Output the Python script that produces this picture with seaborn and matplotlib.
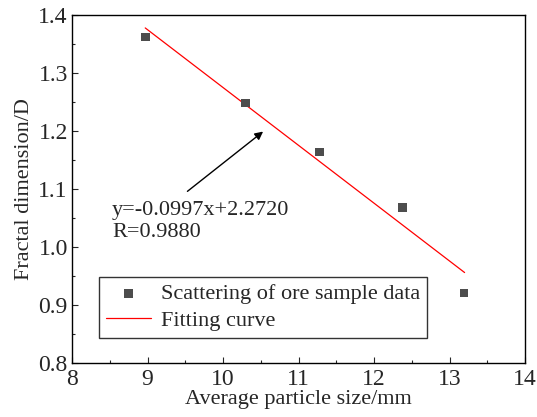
import numpy as np
import pandas as pd
import seaborn as sns
import matplotlib.pyplot as plt
from matplotlib.ticker import MultipleLocator

# du lieu doc tu hinh
particle_size = [8.97, 10.30, 11.28, 12.38, 13.19]
fractal_dim = [1.362, 1.248, 1.164, 1.068, 0.921]
fit_x = [8.97, 13.20]
slope, intercept = -0.0997, 2.2720

df = pd.DataFrame({'size': particle_size, 'D': fractal_dim})
fit_df = pd.DataFrame({'size': fit_x})
fit_df['D'] = slope * fit_df['size'] + intercept

sns.set_style('ticks')
plt.rcParams['font.family'] = ['Liberation Serif', 'DejaVu Serif']

fig = plt.figure(figsize=(5.37, 4.17), dpi=100)
ax = fig.add_axes([72/537, 54/417, 453/537, 348/417])

sns.scatterplot(data=df, x='size', y='D', marker='s', s=38, color='#4d4d4d',
                edgecolor='none', label='Scattering of ore sample data', ax=ax, zorder=3)
sns.lineplot(data=fit_df, x='size', y='D', color='red', linewidth=0.9,
             label='Fitting curve', ax=ax)

ax.set_xlim(8, 14)
ax.set_ylim(0.8, 1.4)
ax.xaxis.set_major_locator(MultipleLocator(1))
ax.xaxis.set_minor_locator(MultipleLocator(0.5))
ax.yaxis.set_major_locator(MultipleLocator(0.1))
ax.yaxis.set_minor_locator(MultipleLocator(0.05))
ax.yaxis.set_major_formatter(plt.FormatStrFormatter('%.1f'))
ax.tick_params(which='both', direction='in', top=False, right=False, labelsize=17, width=0.8)
ax.tick_params(axis='x', pad=4)
ax.tick_params(axis='y', pad=3)
ax.tick_params(which='major', length=4)
ax.tick_params(which='minor', length=2.5)
for s in ax.spines.values():
    s.set_linewidth(1.0)
    s.set_color('black')

ax.set_xlabel('Average particle size/mm', fontsize=16, labelpad=0)
ax.set_ylabel('Fractal dimension/D', fontsize=16, labelpad=3)

ax.annotate('', xy=(10.56, 1.202), xytext=(9.50, 1.093),
            arrowprops=dict(arrowstyle='-|>', color='black', lw=1.0, mutation_scale=12))
ax.text(8.53, 1.080, 'y=-0.0997x+2.2720\nR=0.9880', fontsize=16, va='top', ha='left',
        linespacing=1.25)

leg = ax.legend(loc='lower left', bbox_to_anchor=(0.06, 0.072), borderaxespad=0,
                fontsize=16, frameon=True, fancybox=False, edgecolor='black',
                handlelength=2.05, borderpad=0.3, labelspacing=0.3, handletextpad=0.45)
leg.get_frame().set_linewidth(1.0)

fig.savefig('out.png', dpi=100)
